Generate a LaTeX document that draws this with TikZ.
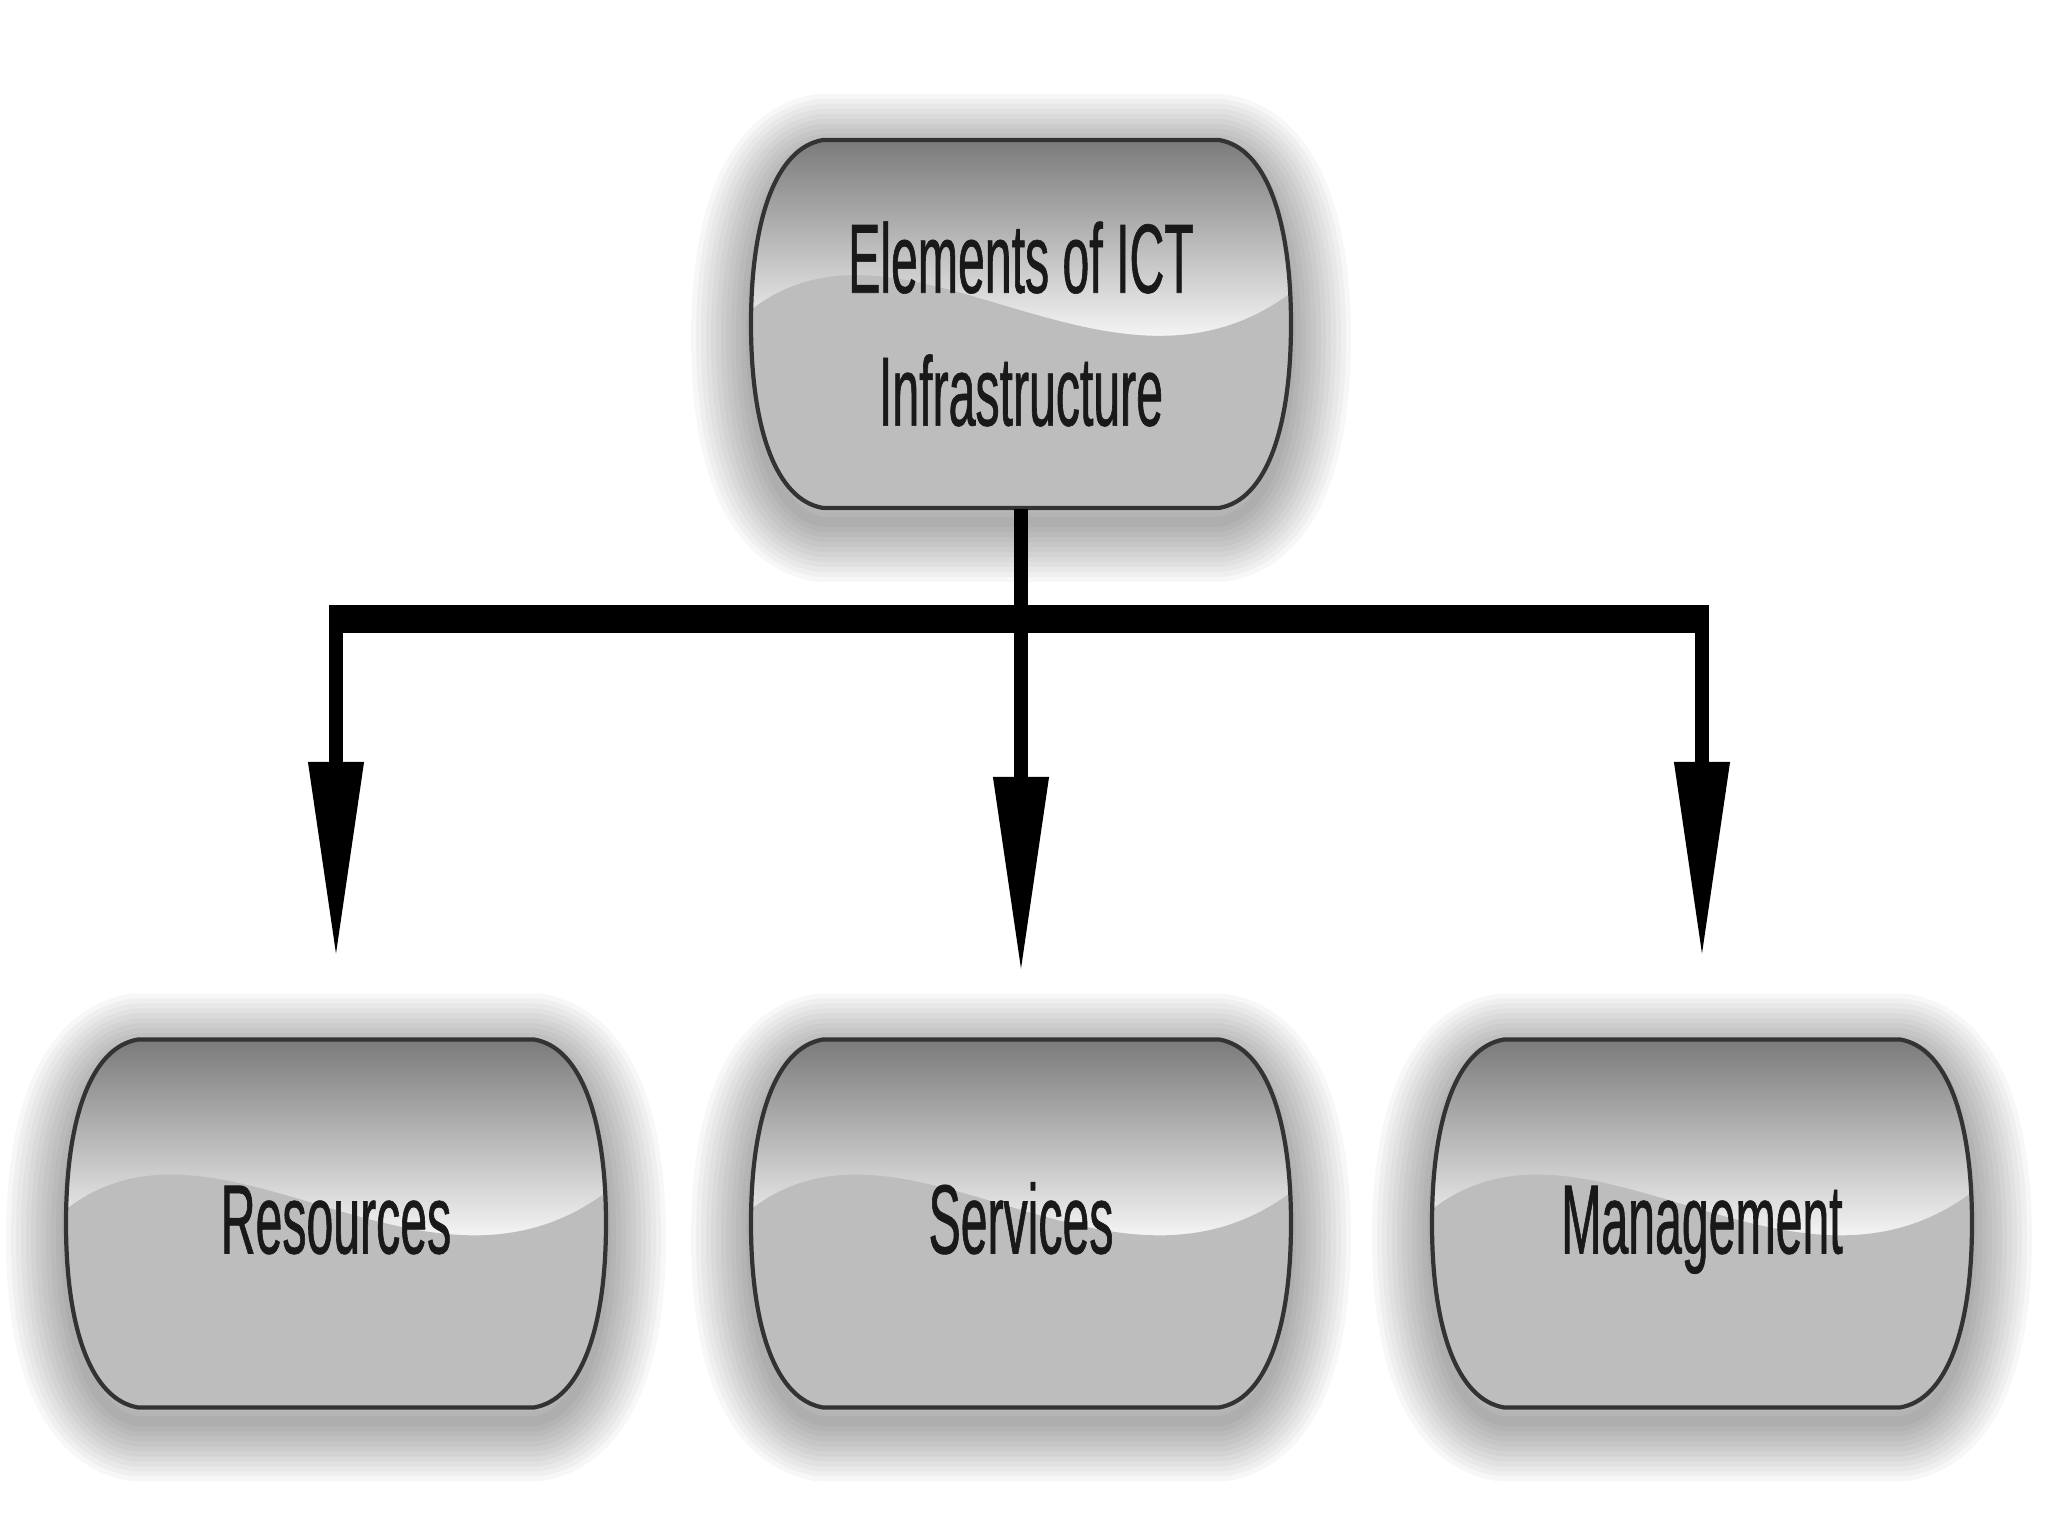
\documentclass[tikz,border=0pt]{standalone}
\usepackage{fontspec}
\newfontfamily\labelfont[FakeStretch=0.49,FakeBold=0.6]{Liberation Sans}
\usetikzlibrary{arrows.meta,backgrounds,calc}

\newcommand{\barrelpath}{(-1.98,1.84) -- (1.98,1.84) .. controls (2.45,1.76) and (2.7,1.05) .. (2.7,0) .. controls (2.7,-1.05) and (2.45,-1.76) .. (1.98,-1.84) -- (-1.98,-1.84) .. controls (-2.45,-1.76) and (-2.7,-1.05) .. (-2.7,0) .. controls (-2.7,1.05) and (-2.45,1.76) .. cycle}

\tikzset{
  elem/.style={rectangle, minimum width=5.4cm, minimum height=3.68cm, inner sep=0pt, align=center,
    font=\labelfont\fontsize{28}{37.8}\selectfont, text=black!90},
  leaf/.style={elem, text height=0.75cm, text depth=0.15cm},
  trunk/.style={line width=0.28cm},
  stem/.style={line width=0.14cm},
  feed/.style={stem, -{Triangle[length=1.97cm,width=0.52cm]}},
  glossbox/.pic={
    % soft halo
    \foreach \w in {1,...,12}
      \draw[black, opacity=0.03, line width=\w mm, line join=round, yshift=-0.14cm] \barrelpath;
    \begin{scope}
      \clip \barrelpath;
      \shade[top color=black!52, bottom color=white] (-2.8,1.84) rectangle (2.8,-0.3);
      \fill[black!26] (-2.75,0.1) .. controls (-1.2,1.4) and (0.9,-1.1) .. (2.75,0.35) -- (2.8,-1.9) -- (-2.8,-1.9) -- cycle;
    \end{scope}
    \draw[black!80, line width=1.2pt] \barrelpath;
  }
}

\begin{document}
\begin{tikzpicture}
\useasboundingbox (0,0) rectangle (20.48,15.36);

\node[elem] (ict) at (10.21,12.12) {Elements of ICT\\Infrastructure};
\node[leaf] (res) at (3.36,3.125) {Resources};
\node[leaf] (serv) at (10.21,3.125) {Services};
\node[leaf] (mgmt) at (17.02,3.125) {Management};

\begin{scope}[on background layer]
\foreach \n in {ict,res,serv,mgmt}
  \pic at (\n) {glossbox};
\end{scope}

\coordinate (junc) at (ict |- 0,9.17);

\draw[stem] (ict) -- (junc);
\draw[trunk, shorten <=-0.07cm, shorten >=-0.07cm] (res |- junc) -- (mgmt |- junc);
\draw[feed, shorten >=0.8cm] (res |- junc) -- (res);
\draw[feed, shorten >=0.65cm] (junc) -- (serv);
\draw[feed, shorten >=0.8cm] (mgmt |- junc) -- (mgmt);

\end{tikzpicture}
\end{document}
